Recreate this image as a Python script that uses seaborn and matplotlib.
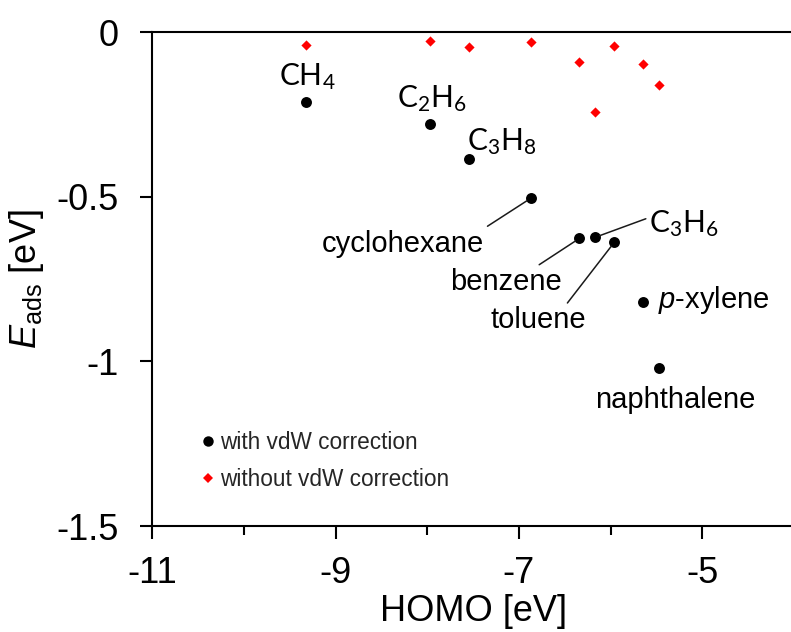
import numpy as np
import pandas as pd
import matplotlib
matplotlib.use("Agg")
import matplotlib.pyplot as plt
from matplotlib.lines import Line2D
from matplotlib.ticker import FixedLocator, FixedFormatter
import seaborn as sns

# ---- data -------------------------------------------------------------
molecules = ["CH4", "C2H6", "C3H8", "cyclohexane", "benzene",
             "C3H6", "toluene", "p-xylene", "naphthalene"]
homo = [-9.32, -7.97, -7.55, -6.87, -6.34, -6.17, -5.96, -5.65, -5.47]
e_with_vdw = [-0.213, -0.279, -0.386, -0.504, -0.626, -0.623, -0.638, -0.818, -1.021]
e_without_vdw = [-0.039, -0.026, -0.044, -0.029, -0.091, -0.241, -0.042, -0.097, -0.161]

series_names = ["with vdW correction", "without vdW correction"]

x_ticks = [-11, -9, -7, -5]
x_tick_labels = ["-11", "-9", "-7", "-5"]
x_minor_ticks = [-10, -8, -6, -4]
y_ticks = [0, -0.5, -1, -1.5]
y_tick_labels = ["0", "-0.5", "-1", "-1.5"]

# text shown for each molecule
display_names = {
    "CH4": r"$\mathregular{CH_4}$",
    "C2H6": r"$\mathregular{C_2H_6}$",
    "C3H8": r"$\mathregular{C_3H_8}$",
    "C3H6": r"$\mathregular{C_3H_6}$",
    "cyclohexane": "cyclohexane",
    "benzene": "benzene",
    "toluene": "toluene",
    "p-xylene": r"$p$-xylene",
    "naphthalene": "naphthalene",
}

# label placement: offset (points), alignment, leader-line anchor on label
label_layout = {
    "CH4": dict(off=(0.7, 12.5), ha="center", rel=None),
    "C2H6": dict(off=(1.0, 12.0), ha="center", rel=None),
    "C3H8": dict(off=(24.1, 6.7), ha="center", rel=None),
    "cyclohexane": dict(off=(-92.0, -38.4), ha="center", rel=(1.01, 1.08)),
    "benzene": dict(off=(-53.3, -37.2), ha="center", rel=(0.78, 1.06)),
    "C3H6": dict(off=(38.9, 4.0), ha="left", rel=(-0.04, 0.65)),
    "toluene": dict(off=(-54.7, -61.9), ha="center", rel=(0.80, 1.10)),
    "p-xylene": dict(off=(10.8, -4.8), ha="left", rel=None),
    "naphthalene": dict(off=(11.3, -28.8), ha="center", rel=None),
}

df = pd.DataFrame({
    "molecule": molecules * 2,
    "HOMO": homo * 2,
    "E": e_with_vdw + e_without_vdw,
    "series": [series_names[0]] * len(molecules) + [series_names[1]] * len(molecules),
})

# ---- style ------------------------------------------------------------
sns.set_style("white")
plt.rcParams["font.family"] = ["Liberation Sans", "DejaVu Sans"]
plt.rcParams["mathtext.fontset"] = "custom"
plt.rcParams["mathtext.rm"] = "Liberation Sans"
plt.rcParams["mathtext.it"] = "Liberation Sans:italic"
plt.rcParams["axes.unicode_minus"] = False

W, H = 791, 632
fig = plt.figure(figsize=(W / 100, H / 100), dpi=100)
x0, x1, y_top, y_bot = 152.3, 794.0, 32.3, 526.0
ax = fig.add_axes([x0 / W, (H - y_bot) / H, (x1 - x0) / W, (y_bot - y_top) / H])

palette = {series_names[0]: "black", series_names[1]: "#ff0000"}
markers = {series_names[0]: "o", series_names[1]: "D"}
sizes = {series_names[0]: 62, series_names[1]: 27}

for name in series_names:
    sub = df[df["series"] == name]
    sns.scatterplot(data=sub, x="HOMO", y="E", color=palette[name],
                    marker=markers[name], s=sizes[name], linewidth=0,
                    ax=ax, legend=False, zorder=3)

ax.set_xlim(-11, -4)
ax.set_ylim(-1.5, 0)

# ---- axes, ticks ------------------------------------------------------
for side in ["left", "bottom", "top"]:
    ax.spines[side].set_visible(True)
    ax.spines[side].set_linewidth(1.5)
    ax.spines[side].set_color("black")
ax.spines["right"].set_visible(False)

ax.xaxis.set_major_locator(FixedLocator(x_ticks))
ax.xaxis.set_major_formatter(FixedFormatter(x_tick_labels))
ax.xaxis.set_minor_locator(FixedLocator(x_minor_ticks))
ax.yaxis.set_major_locator(FixedLocator(y_ticks))
ax.yaxis.set_major_formatter(FixedFormatter(y_tick_labels))

ax.tick_params(axis="x", which="major", direction="out", length=9.5, width=1.5,
               labelsize=26, pad=12, bottom=True, top=False, colors="black")
ax.tick_params(axis="x", which="minor", direction="out", length=6.5, width=1.5,
               bottom=True, top=False, colors="black")
ax.tick_params(axis="y", which="major", direction="out", length=9, width=1.5,
               labelsize=26, pad=15, left=True, right=False, colors="black")

ax.set_xlabel("HOMO [eV]", fontsize=26, labelpad=2, color="black")
ax.set_ylabel(r"$E_{\mathrm{ads}}$ [eV]", fontsize=26, color="black")
ax.yaxis.set_label_coords(-0.165, 0.5)

# ---- molecule labels --------------------------------------------------
for mol, hx, ey in zip(molecules, homo, e_with_vdw):
    lay = label_layout[mol]
    is_formula = mol in ("CH4", "C2H6", "C3H8", "C3H6")
    kw = dict(fontsize=21.5 if is_formula else 21, color="black",
              family=["Lato"] if is_formula else ["Liberation Sans"],
              ha=lay["ha"], va="baseline",
              textcoords="offset points", annotation_clip=False)
    if lay["rel"] is not None:
        kw["arrowprops"] = dict(arrowstyle="-", color="#1a1a1a", lw=1.1,
                                relpos=lay["rel"], shrinkA=0, shrinkB=3.5)
    ax.annotate(display_names[mol], xy=(hx, ey), xytext=lay["off"], **kw)

# ---- legend -----------------------------------------------------------
handles = [
    Line2D([], [], linestyle="none", marker="o", markersize=7.5,
           markerfacecolor="black", markeredgewidth=0),
    Line2D([], [], linestyle="none", marker="D", markersize=5.0,
           markerfacecolor="#ff0000", markeredgewidth=0),
]
ax.legend(handles, series_names, loc="center left",
          bbox_to_anchor=(0.074, 0.131), frameon=False, fontsize=16.3,
          handlelength=0.7, handletextpad=0.2, labelspacing=0.62,
          borderpad=0, borderaxespad=0)

fig.savefig("out.png", dpi=100, facecolor="white")
